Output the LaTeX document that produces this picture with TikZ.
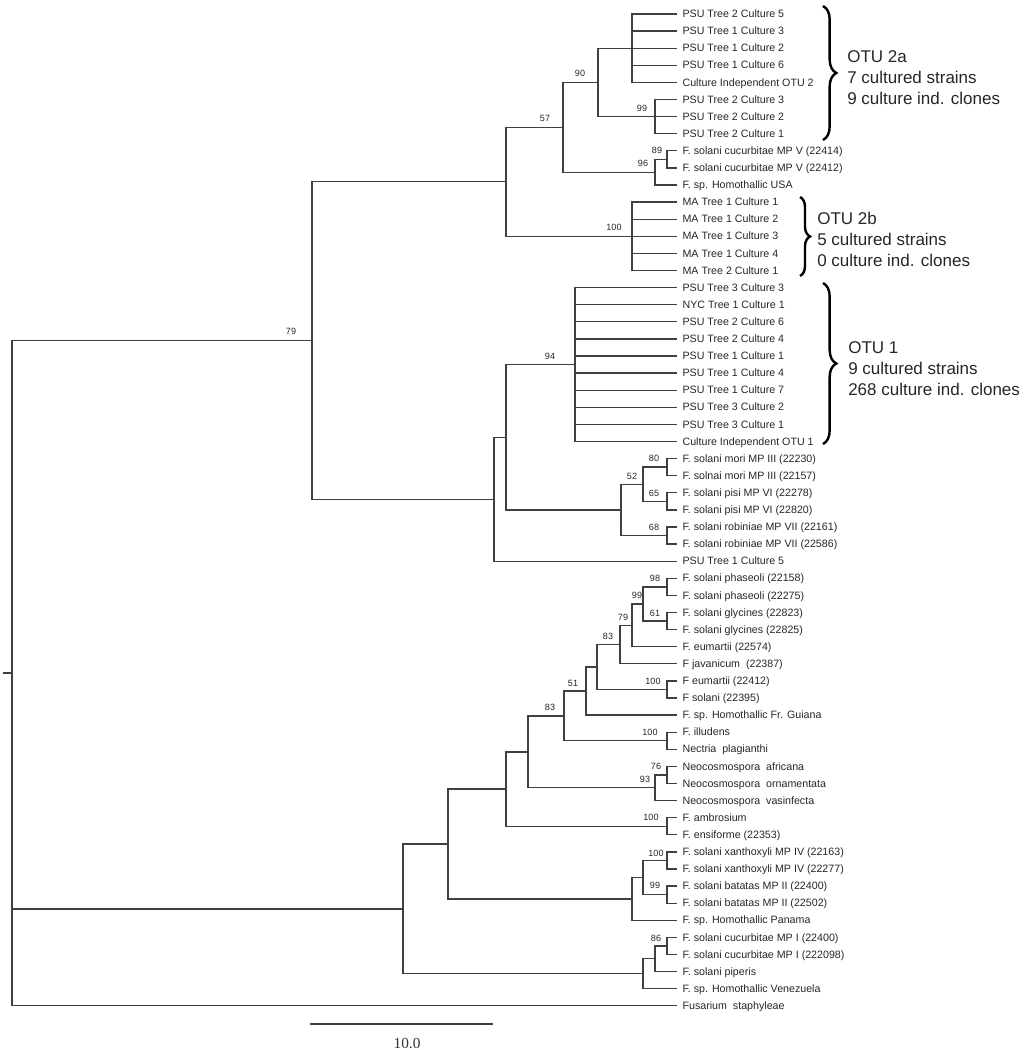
\documentclass[tikz,border=0pt]{standalone}
\usepackage{fontspec}
\setmainfont{Liberation Sans}
\newfontfamily\barfont{Liberation Serif}
\usetikzlibrary{decorations.pathreplacing}

\begin{document}
\begin{tikzpicture}[x=0.75pt, y=-0.75pt,
		branch/.style={draw=black!75, line width=1pt},
		leaf/.style={anchor=west, inner xsep=4pt, inner ysep=0pt, text height=6pt, text depth=0.5pt, font=\fontsize{8}{9}\selectfont, text=black!85},
		boot/.style={font=\fontsize{6.8}{8}\selectfont, text=black!85, inner sep=0pt},
		otu/.style={anchor=west, align=left, inner sep=0pt, font=\fontsize{12.75}{15.75}\selectfont, text=black!85},
		clade/.style={draw=black, decorate, decoration={brace, amplitude=#1}, line width=1.8pt}]
		\useasboundingbox (0,0) rectangle (1024,1050);
		%Taxa
		\foreach \taxon [count=\i] in {PSU Tree 2 Culture 5, PSU Tree 1 Culture 3, PSU Tree 1 Culture 2, PSU Tree 1 Culture 6, Culture Independent OTU 2, PSU Tree 2 Culture 3, PSU Tree 2 Culture 2, PSU Tree 2 Culture 1, F. solani cucurbitae MP V (22414), F. solani cucurbitae MP V (22412), F. sp. Homothallic USA, MA Tree 1 Culture 1, MA Tree 1 Culture 2, MA Tree 1 Culture 3, MA Tree 1 Culture 4, MA Tree 2 Culture 1, PSU Tree 3 Culture 3, NYC Tree 1 Culture 1, PSU Tree 2 Culture 6, PSU Tree 2 Culture 4, PSU Tree 1 Culture 1, PSU Tree 1 Culture 4, PSU Tree 1 Culture 7, PSU Tree 3 Culture 2, PSU Tree 3 Culture 1, Culture Independent OTU 1, F. solani mori MP III (22230), F. solnai mori MP III (22157), F. solani pisi MP VI (22278), F. solani pisi MP VI (22820), F. solani robiniae MP VII (22161), F. solani robiniae MP VII (22586), PSU Tree 1 Culture 5, F. solani phaseoli (22158), F. solani phaseoli (22275), F. solani glycines (22823), F. solani glycines (22825), F. eumartii (22574), F javanicum\ \ (22387), F eumartii (22412), F solani (22395), F. sp. Homothallic Fr. Guiana, F. illudens, Nectria\ \ plagianthi, Neocosmospora\ \ africana, Neocosmospora\ \ ornamentata, Neocosmospora\ \ vasinfecta, F. ambrosium, F. ensiforme (22353), F. solani xanthoxyli MP IV (22163), F. solani xanthoxyli MP IV (22277), F. solani batatas MP II (22400), F. solani batatas MP II (22502), F. sp. Homothallic Panama, F. solani cucurbitae MP I (22400), F. solani cucurbitae MP I (222098), F. solani piperis, F. sp. Homothallic Venezuela, Fusarium\ \ staphyleae}
			\node[leaf] (l\i) at (677, {14+17.1*(\i-1)}) {\taxon};
		%inner nodes
		\coordinate (stem) at (3,673.15);
		\coordinate (root) at (12,673.15);
		\coordinate (n79) at (312,340.5);
		\coordinate (nA) at (506,181.8);
		\coordinate (n57) at (563,127.3);
		\coordinate (n90) at (598,82.4);
		\coordinate (n5) at (632,48.2);
		\coordinate (n99a) at (655,116.6);
		\coordinate (n96) at (655,172.2);
		\coordinate (n89) at (667,159.35);
		\coordinate (nMA) at (632,236.3);
		\coordinate (nB) at (494,499.2);
		\coordinate (nE) at (506,437.2);
		\coordinate (n94) at (575,364.55);
		\coordinate (nF) at (621,509.9);
		\coordinate (n52) at (643,484.25);
		\coordinate (n80) at (667,467.15);
		\coordinate (n65) at (667,501.35);
		\coordinate (n68) at (667,535.55);
		\coordinate (nO) at (403,908.9);
		\coordinate (nL) at (448,843.98);
		\coordinate (nI) at (506,789.05);
		\coordinate (nH) at (528,751.85);
		\coordinate (n83b) at (564,715.9);
		\coordinate (n51) at (586,691.05);
		\coordinate (nG) at (597,667);
		\coordinate (n83a) at (620,644.55);
		\coordinate (n79b) at (632,625.3);
		\coordinate (n99b) at (643,603.95);
		\coordinate (n98) at (667,586.85);
		\coordinate (n61) at (667,621.05);
		\coordinate (n100a) at (667,689.45);
		\coordinate (n100b) at (667,740.75);
		\coordinate (n93) at (655,787.8);
		\coordinate (n76) at (667,774.95);
		\coordinate (n100c) at (667,826.25);
		\coordinate (nK) at (632,898.9);
		\coordinate (nJ) at (643,877.55);
		\coordinate (n100d) at (667,860.45);
		\coordinate (n99c) at (667,894.65);
		\coordinate (nN) at (643,973.75);
		\coordinate (nM) at (655,958.8);
		\coordinate (n86) at (667,945.95);
		%branches
		\draw[branch] (stem) -- (root);
		\foreach \p/\c in {root/n79, root/nO, n79/nA, n79/nB, nA/n57, nA/nMA, n57/n90, n57/n96, n90/n5, n90/n99a, n96/n89, nB/nE, nE/n94, nE/nF, nF/n52, nF/n68, n52/n80, n52/n65, nO/nL, nO/nN, nL/nI, nL/nK, nI/nH, nI/n100c, nH/n83b, nH/n93, n83b/n51, n83b/n100b, n51/nG, nG/n83a, nG/n100a, n83a/n79b, n79b/n99b, n99b/n98, n99b/n61, n93/n76, nK/nJ, nJ/n100d, nJ/n99c, nN/nM, nM/n86}
			\draw[branch] (\p) |- (\c);
		\foreach \p/\c in {n5/1, n5/2, n5/3, n5/4, n5/5, n99a/6, n99a/7, n99a/8, n89/9, n89/10, n96/11, nMA/12, nMA/13, nMA/14, nMA/15, nMA/16, n94/17, n94/18, n94/19, n94/20, n94/21, n94/22, n94/23, n94/24, n94/25, n94/26, n80/27, n80/28, n65/29, n65/30, n68/31, n68/32, nB/33, n98/34, n98/35, n61/36, n61/37, n79b/38, n83a/39, n100a/40, n100a/41, n51/42, n100b/43, n100b/44, n76/45, n76/46, n93/47, n100c/48, n100c/49, n100d/50, n100d/51, n99c/52, n99c/53, nK/54, n86/55, n86/56, nM/57, nN/58, root/59}
			\draw[branch] (\p) |- (l\c.west);
		%bootstrap values
		\foreach \x/\y/\s [count=\k] in {291/331/79, 545/118/57, 580/73/90, 642/108/99, 657/150/89, 643/163/96, 614/227/100, 550/356/94, 654/458/80, 632/476/52, 654/493/65, 654/527/68, 655/578/98, 637/595/99, 655/613/61, 623/617/79, 608/636/83, 653/681/100, 573/683/51, 550/707/83, 650/732/100, 656/766/76, 645/779/93, 651/817/100, 656/853/100, 655/885/99, 656/938/86}
			\node[boot] (b\k) at (\x,\y) {\s};
		%OTUs
		\draw[clade=10pt] (823,6) -- (823,140);
		\node[otu] (otu2a) at (847,77.5) {OTU 2a\\7 cultured strains\\9 culture ind. clones};
		\draw[clade=7.5pt] (800,197) -- (800,276);
		\node[otu] (otu2b) at (817,239.7) {OTU 2b\\5 cultured strains\\0 culture ind. clones};
		\draw[clade=10pt] (823,283) -- (823,444);
		\node[otu] (otu1) at (848,369) {OTU 1\\9 cultured strains\\268 culture ind. clones};
		%Maßstab
		\coordinate (bar0) at (310,1024);
		\coordinate (bar1) at (493,1024);
		\draw[branch, line width=1.3pt] (bar0) -- (bar1);
		\node[text=black!80, font=\barfont\fontsize{11.5}{13}\selectfont] (scale) at (407,1043) {10.0};
	\end{tikzpicture}
\end{document}
